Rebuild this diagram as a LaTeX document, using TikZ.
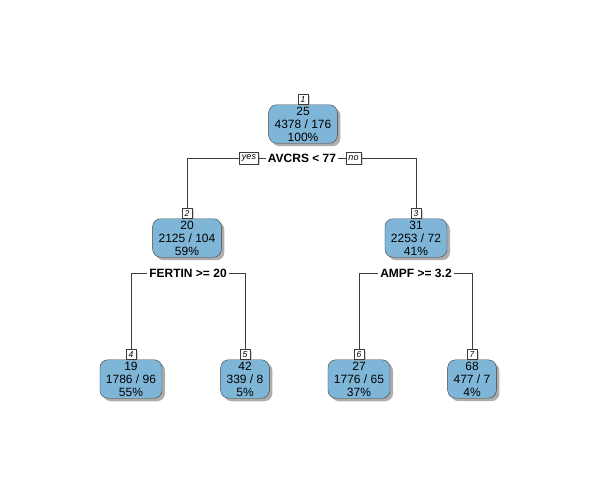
\documentclass[tikz,border=0pt]{standalone}
\usepackage{fontspec}
\setmainfont{Liberation Sans}
\usetikzlibrary{shadows}
\definecolor{leafblue}{HTML}{7FB6D8}
\definecolor{edgegray}{HTML}{3C3C3C}
\tikzset{
  treenode/.style={draw=edgegray, fill=leafblue, rounded corners=8pt, align=center,
    font=\fontsize{12}{13}\selectfont, inner xsep=6pt, inner ysep=2pt,
    drop shadow={shadow xshift=3pt, shadow yshift=-3pt, fill=black!40, opacity=0.8}},
  numbox/.style={draw=edgegray, fill=white, inner sep=1pt, minimum width=10pt, minimum height=10pt,
    font=\fontsize{8.5}{8.5}\selectfont\itshape,
    drop shadow={shadow xshift=1.5pt, shadow yshift=-1.5pt, fill=black!35}},
  splitlab/.style={fill=white, inner xsep=2pt, inner ysep=1pt, font=\fontsize{12}{12}\selectfont\bfseries},
  yesno/.style={draw=edgegray, fill=white, inner xsep=2.5pt, inner ysep=1pt, minimum height=12pt,
    font=\fontsize{9}{9}\selectfont\itshape,
    drop shadow={shadow xshift=1.5pt, shadow yshift=-1.5pt, fill=black!30}},
  conn/.style={draw=edgegray, line width=0.6pt}
}
\begin{document}
\begin{tikzpicture}[x=1pt, y=-1pt]
\useasboundingbox (0,0) rectangle (600,500);

% tree nodes
\node[treenode] (n1) at (303,124) {25\\4378 / 176\\100\%};
\node[treenode] (n2) at (187,238) {20\\2125 / 104\\59\%};
\node[treenode] (n3) at (416,238) {31\\2253 / 72\\41\%};
\node[treenode] (n4) at (131,379) {19\\1786 / 96\\55\%};
\node[treenode] (n5) at (245,379) {42\\339 / 8\\5\%};
\node[treenode] (n6) at (359,379) {27\\1776 / 65\\37\%};
\node[treenode] (n7) at (472,379) {68\\477 / 7\\4\%};

% node numbers
\node[numbox, anchor=south] (l1) at (n1.north) {1};
\node[numbox, anchor=south] (l2) at (n2.north) {2};
\node[numbox, anchor=south] (l3) at (n3.north) {3};
\node[numbox, anchor=south] (l4) at (n4.north) {4};
\node[numbox, anchor=south] (l5) at (n5.north) {5};
\node[numbox, anchor=south] (l6) at (n6.north) {6};
\node[numbox, anchor=south] (l7) at (n7.north) {7};

% split labels
\node[splitlab] (s1) at (302,158) {AVCRS < 77};
\node[yesno] (yes) at (249,158) {yes};
\node[yesno] (no) at (353.5,158) {no};
\node[splitlab] (s2) at (188,273) {FERTIN >= 20};
\node[splitlab] (s3) at (416,273) {AMPF >= 3.2};

% connectors
\draw[conn] (yes.west) -| (l2.north);
\draw[conn] (yes.east) -- (s1.west);
\draw[conn] (s1.east) -- (no.west);
\draw[conn] (no.east) -| (l3.north);
\draw[conn] (s2.west) -| (l4.north);
\draw[conn] (s2.east) -| (l5.north);
\draw[conn] (s3.west) -| (l6.north);
\draw[conn] (s3.east) -| (l7.north);
\end{tikzpicture}
\end{document}
